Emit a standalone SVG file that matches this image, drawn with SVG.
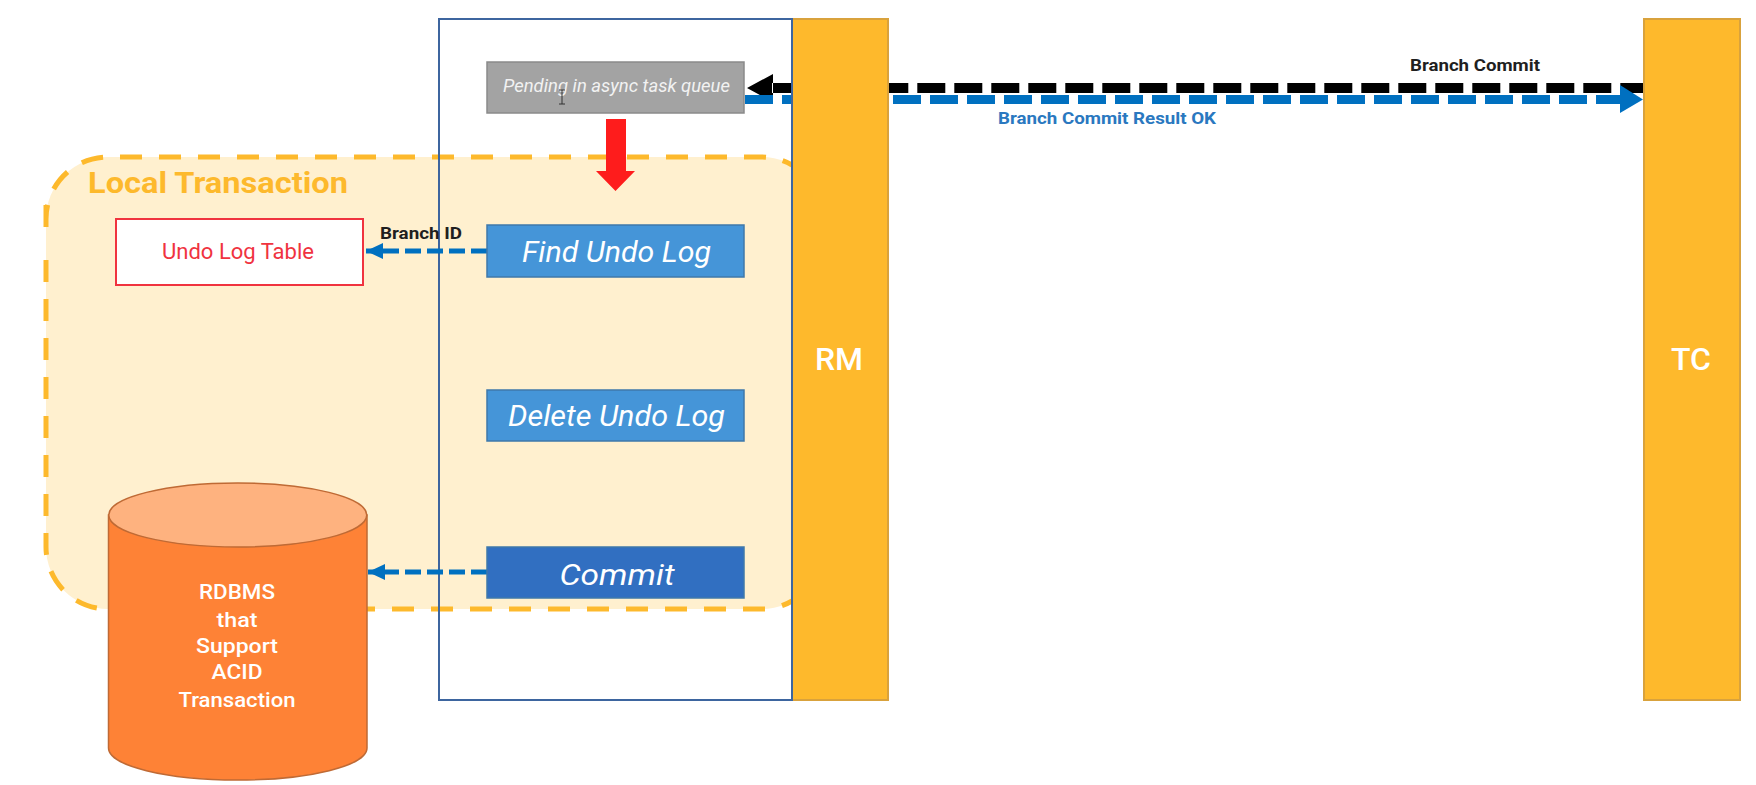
<svg xmlns="http://www.w3.org/2000/svg" width="1756" height="785" viewBox="0 0 1756 785">
<style>
text{font-family:Roboto,"Noto Sans","Liberation Sans",sans-serif}
.bar{fill:#feb92c;stroke:#d9a23c;stroke-width:2}
.step{stroke:#3f78ab;stroke-width:1.5;fill:#4595d8}
.stepText{fill:#fff;font-style:italic;font-size:29px;text-anchor:middle}
.lab{font-weight:700;font-size:16.500px;fill:#1f1f1f}
.barText{fill:#fff;font-weight:500;font-size:32px;text-anchor:middle}
.dbText{fill:#fff;font-weight:500;font-size:20px;text-anchor:middle}
</style>
<defs>
<marker id="ab" viewBox="0 0 17 16" refX="17" refY="8" markerWidth="17" markerHeight="16" markerUnits="userSpaceOnUse" orient="auto"><path d="M0 8L17 0V16Z" transform="rotate(180 8.500 8)" fill="#0070c0"/></marker>
</defs>
<rect width="1756" height="785" fill="#fff"/>
<g id="local-transaction">
<rect x="46" y="157" width="778" height="452" rx="62" fill="#fff0cf"/>
<path d="M142 157H108A62 62 0 0 0 46 219M46 205V243M46 260V547A62 62 0 0 0 108 609M120 157H762A62 62 0 0 1 792 165M765 609H360M782 605.700A62 62 0 0 0 792 601" fill="none" stroke="#fdb92c" stroke-width="5" stroke-dasharray="22 17"/>
<text x="88" y="193" font-size="30" font-weight="700" fill="#fdb92c" textLength="260" lengthAdjust="spacingAndGlyphs">Local Transaction</text>
</g>
<g id="undo-log-table">
<rect x="116" y="219" width="247" height="66" fill="#fff" stroke="#f0333f" stroke-width="2"/>
<text x="238" y="259" font-size="22" fill="#f0333f" text-anchor="middle" textLength="152" lengthAdjust="spacingAndGlyphs">Undo Log Table</text>
</g>
<g id="rdbms">
<path d="M108.500 515V748A129 32 0 0 0 367 748V515Z" fill="#fe8236" stroke="#bf6a35" stroke-width="1.500"/>
<ellipse cx="237.750" cy="515" rx="129" ry="32" fill="#feb27f" stroke="#bf6a35" stroke-width="1.500"/>
<text class="dbText" x="237" y="599" textLength="76" lengthAdjust="spacingAndGlyphs">RDBMS</text>
<text class="dbText" x="237" y="627" textLength="41" lengthAdjust="spacingAndGlyphs">that</text>
<text class="dbText" x="237" y="653" textLength="82" lengthAdjust="spacingAndGlyphs">Support</text>
<text class="dbText" x="237" y="679" textLength="51" lengthAdjust="spacingAndGlyphs">ACID</text>
<text class="dbText" x="237" y="707" textLength="117" lengthAdjust="spacingAndGlyphs">Transaction</text>
</g>
<g id="rm"><rect class="bar" x="792" y="19" width="96" height="681"/><text class="barText" x="839" y="370">RM</text></g>
<g id="tc"><rect class="bar" x="1644" y="19" width="96" height="681"/><text class="barText" x="1691" y="370">TC</text></g>
<g id="rm-frame"><rect x="439" y="19" width="353" height="681" fill="none" stroke="#3d659f" stroke-width="2"/></g>
<g id="connectors" fill="none">
<path d="M889 88H908.300M917.300 88H1643" stroke="#000" stroke-width="10" stroke-dasharray="28 9"/>
<path d="M773 74L747 88L773 102Z M772 83H791V93H772Z" fill="#000"/>
<path d="M745 99.500H791M893 99.500H1626" stroke="#0070c0" stroke-width="9" stroke-dasharray="28 9"/>
<path d="M1620 85L1643 99.500L1620 113Z" fill="#0070c0"/>
<path d="M487 251H366" stroke="#0070c0" stroke-width="5" stroke-dasharray="16 6" marker-end="url(#ab)"/>
<path d="M487 572H368" stroke="#0070c0" stroke-width="5" stroke-dasharray="16 6" marker-end="url(#ab)"/>
<path d="M606 119H626V171H635L615.500 191L596 171H606Z" fill="#fe1c1c"/>
</g>
<g id="pending">
<rect x="487" y="62" width="257" height="51" fill="#a3a3a3" stroke="#8a8a8a" stroke-width="1.500"/>
<text x="616.500" y="92" font-size="18" font-style="italic" fill="#f2f2f2" text-anchor="middle" textLength="227" lengthAdjust="spacingAndGlyphs">Pending in async task queue</text>
<path d="M559 90H565M562 90V104M559 104H565" stroke="#333" stroke-width="1" fill="none"/>
</g>
<g id="find-undo-log"><rect class="step" x="487" y="225" width="257" height="52"/><text class="stepText" x="616.500" y="262" textLength="189" lengthAdjust="spacingAndGlyphs">Find Undo Log</text></g>
<g id="delete-undo-log"><rect class="step" x="487" y="390" width="257" height="51"/><text class="stepText" x="616.500" y="426" textLength="217" lengthAdjust="spacingAndGlyphs">Delete Undo Log</text></g>
<g id="commit"><rect class="step" x="487" y="547" width="257" height="51" style="fill:#316fc1"/><text class="stepText" x="617" y="585" textLength="115" lengthAdjust="spacingAndGlyphs">Commit</text></g>
<g id="labels">
<text class="lab" x="380" y="239" textLength="82" lengthAdjust="spacingAndGlyphs">Branch ID</text>
<text class="lab" x="1410" y="71" textLength="130" lengthAdjust="spacingAndGlyphs">Branch Commit</text>
<text class="lab" x="998" y="124" style="fill:#2a78c0" textLength="218" lengthAdjust="spacingAndGlyphs">Branch Commit Result OK</text>
</g>
</svg>
